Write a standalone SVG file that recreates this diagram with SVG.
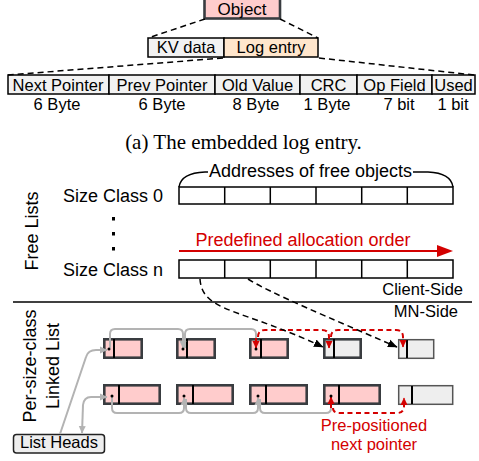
<svg xmlns="http://www.w3.org/2000/svg" width="479" height="461" viewBox="0 0 479 461">
<style>
.t{font-family:"Liberation Sans",Arial,sans-serif;fill:#000}
.s16{font-size:16.5px}
.s18{font-size:18px}
.mid{text-anchor:middle}
.end{text-anchor:end}
.red{fill:#d40000}
.dash{fill:none;stroke:#000;stroke-width:1.5;stroke-dasharray:6,4}
.cell{fill:#f2f2f2;stroke:#000;stroke-width:1.5}
.fl{fill:#fff;stroke:#000;stroke-width:1.5}
.div{stroke:#000;stroke-width:1.5}
.pk{fill:#ffcccc;stroke:#393c40;stroke-width:2.6}
.gy{fill:#eeeeee;stroke:#393c40;stroke-width:2.6}
.gyt{fill:#eeeeee;stroke:#555;stroke-width:1.5}
.ptr{stroke:#000;stroke-width:2}
.gl{fill:none;stroke:#b3b3b3;stroke-width:2}
.rl{fill:none;stroke:#d40000;stroke-width:2}
.rd{fill:none;stroke:#d40000;stroke-width:2;stroke-dasharray:5,3.5}
.bd{fill:none;stroke:#000;stroke-width:1.5;stroke-dasharray:6,4}
</style>
<defs>
<marker id="ag" markerUnits="userSpaceOnUse" markerWidth="8" markerHeight="8" refX="7" refY="4" orient="auto"><path d="M0,0.5 L7.5,4 L0,7.5z" fill="#b3b3b3"/></marker>
<marker id="ar" markerUnits="userSpaceOnUse" markerWidth="8" markerHeight="8" refX="7" refY="4" orient="auto"><path d="M0,0.5 L7.5,4 L0,7.5z" fill="#d40000"/></marker>
<marker id="ab" markerUnits="userSpaceOnUse" markerWidth="10" markerHeight="10" refX="9" refY="5" orient="auto"><path d="M0,1 L9.5,5 L0,9z" fill="#000"/></marker>
</defs>

<!-- Part (a) -->
<g id="object">
<rect x="204.5" y="-3" width="75.5" height="21.5" fill="#ffcccc" stroke="#393c40" stroke-width="2.6"/>
<text class="t mid" x="242" y="15" font-size="17">Object</text>
</g>
<g id="kvdata">
<rect x="148" y="38" width="76" height="19" fill="#f2f2f2" stroke="#000" stroke-width="1.5"/>
<text class="t s16 mid" x="186" y="53">KV data</text>
</g>
<g id="logentry">
<rect x="224" y="38" width="94" height="19" fill="#ffe6cc" stroke="#000" stroke-width="1.5"/>
<text class="t s16 mid" x="271" y="53">Log entry</text>
</g>
<g id="fields">
<rect class="cell" x="8" y="75" width="101" height="19"/>
<rect class="cell" x="109" y="75" width="106" height="19"/>
<rect class="cell" x="215" y="75" width="85" height="19"/>
<rect class="cell" x="300" y="75" width="57" height="19"/>
<rect class="cell" x="357" y="75" width="75" height="19"/>
<rect class="cell" x="432" y="75" width="43" height="19"/>
<text class="t s16 mid" x="58" y="91">Next Pointer</text>
<text class="t s16 mid" x="162" y="91">Prev Pointer</text>
<text class="t s16 mid" x="257.5" y="91">Old Value</text>
<text class="t s16 mid" x="328.5" y="91">CRC</text>
<text class="t s16 mid" x="394.5" y="91">Op Field</text>
<text class="t s16 mid" x="453.5" y="91">Used</text>
<text class="t s16 mid" x="57" y="110">6 Byte</text>
<text class="t s16 mid" x="162" y="110">6 Byte</text>
<text class="t s16 mid" x="256" y="110">8 Byte</text>
<text class="t s16 mid" x="327" y="110">1 Byte</text>
<text class="t s16 mid" x="399" y="110">7 bit</text>
<text class="t s16 mid" x="453" y="110">1 bit</text>
</g>
<g id="zoom-lines">
<line class="dash" x1="205" y1="19" x2="148" y2="38"/>
<line class="dash" x1="280" y1="19" x2="318" y2="38"/>
<line class="dash" x1="223" y1="58" x2="8" y2="75"/>
<line class="dash" x1="319" y1="58" x2="474" y2="75"/>
</g>
<text x="243.5" y="149" font-family="'Liberation Serif','Times New Roman',serif" font-size="21" text-anchor="middle">(a) The embedded log entry.</text>

<!-- Free lists -->
<g id="free-lists">
<text class="t s18 mid" transform="translate(38,231) rotate(-90)">Free Lists</text>
<text class="t s18" x="63" y="202">Size Class 0</text>
<text class="t s18" x="63" y="276">Size Class n</text>
<rect x="112" y="217" width="3" height="3.5" fill="#000"/>
<rect x="112" y="232" width="3" height="3.5" fill="#000"/>
<rect x="112" y="247" width="3" height="3.5" fill="#000"/>
<path d="M179,187 Q181,173 205,172 L208,172 M413,172 L428,172 Q451,173 453,187" fill="none" stroke="#000" stroke-width="1.5"/>
<text class="t s18 mid" x="310.5" y="177">Addresses of free objects</text>
<rect class="fl" x="179" y="187" width="274" height="17"/>
<path class="div" d="M224.7,187V204M270.3,187V204M316,187V204M361.7,187V204M407.3,187V204"/>
<text class="t s18 mid red" x="303" y="246">Predefined allocation order</text>
<line x1="179" y1="251" x2="439" y2="251" stroke="#d40000" stroke-width="2"/>
<polygon points="437,245 453,251 437,257" fill="#d40000"/>
<rect class="fl" x="179" y="260" width="274" height="18"/>
<path class="div" d="M224.7,260V278M270.3,260V278M316,260V278M361.7,260V278M407.3,260V278"/>
</g>
<text class="t s16 end" x="463" y="295">Client-Side</text>
<line x1="13" y1="302" x2="472" y2="302" stroke="#000" stroke-width="1.5"/>
<text class="t s16 end" x="458" y="317">MN-Side</text>

<!-- Linked lists -->
<text class="t s18 mid" transform="translate(36,366) rotate(-90)">Per-size-class</text>
<text class="t s18 mid" transform="translate(59,366) rotate(-90)">Linked List</text>

<g id="obj-a"><rect class="pk" x="104.3" y="339.3" width="37.4" height="18.4"/><line class="ptr" x1="114" y1="339" x2="114" y2="358"/></g>
<g id="obj-b"><rect class="pk" x="177.3" y="339.3" width="37.4" height="18.4"/><line class="ptr" x1="187" y1="339" x2="187" y2="358"/></g>
<g id="obj-c"><rect class="pk" x="250.3" y="339.3" width="37.4" height="18.4"/><line class="ptr" x1="261" y1="339" x2="261" y2="358"/></g>
<g id="obj-d"><rect class="gy" x="324.3" y="339.3" width="36.4" height="18.4"/><line class="ptr" x1="334" y1="339" x2="334" y2="358"/></g>
<g id="obj-e"><rect class="gyt" x="398.7" y="339.7" width="35" height="18.6"/><line class="ptr" x1="407" y1="340" x2="407" y2="358"/></g>
<g id="obj-f"><rect class="pk" x="104.3" y="385.3" width="55.4" height="18.4"/><line class="ptr" x1="119" y1="385" x2="119" y2="404"/></g>
<g id="obj-g"><rect class="pk" x="177.3" y="385.3" width="55.4" height="18.4"/><line class="ptr" x1="193" y1="385" x2="193" y2="404"/></g>
<g id="obj-h"><rect class="pk" x="250.3" y="385.3" width="56.4" height="18.4"/><line class="ptr" x1="266" y1="385" x2="266" y2="404"/></g>
<g id="obj-i"><rect class="pk" x="324.3" y="385.3" width="55.4" height="18.4"/><line class="ptr" x1="339" y1="385" x2="339" y2="404"/></g>
<g id="obj-j"><rect class="gyt" x="398.7" y="385.7" width="54" height="18.6"/><line class="ptr" x1="412" y1="386" x2="412" y2="404"/></g>
<g id="list-heads">
<rect x="13.5" y="434.5" width="91" height="18.5" rx="3" fill="#eeeeee" stroke="#222" stroke-width="1.5"/>
<text class="t s16 mid" x="59" y="448">List Heads</text>
</g>

<g id="connectors">
<path class="gl" d="M60,434 L86,357 Q88,350 96,350 L107,350" marker-end="url(#ag)"/>
<path class="gl" d="M110,348 L110,334 Q110,329 115,329 L178,329 Q183,329 183,334 L183,348" marker-end="url(#ag)"/>
<path class="gl" d="M185,348 L185,334 Q185,329 190,329 L251,329 Q256,329 256,334 L256,339"/>
<path class="rl" d="M256,338 L256,348" marker-end="url(#ar)"/>
<path class="gl" d="M83,405 Q84,397 91,397 L107,397" marker-end="url(#ag)"/>
<path class="gl" d="M83,405 L82,433" marker-end="url(#ag)"/>
<path class="gl" d="M112,397 L112,408 Q112,413 117,413 L179,413 Q184,413 184,408 L184,398" marker-end="url(#ag)"/>
<path class="gl" d="M186,399 L186,408 Q186,413 191,413 L253,413 Q258,413 258,408 L258,398" marker-end="url(#ag)"/>
<path class="gl" d="M260,399 L260,408 Q260,413 265,413 L326,413 Q331,413 331,408 L331,407"/>
<path class="rl" d="M331,408 L331,397" marker-end="url(#ar)"/>
<path class="rd" d="M258,337 Q258,330 265,330 L322,330 Q329,330 329,337 L329,348" marker-end="url(#ar)"/>
<path class="rd" d="M331,337 Q331,330 338,330 L396,330 Q403,330 403,337 L403,347" marker-end="url(#ar)"/>
<path class="rd" d="M333,408 Q333,413 340,413 L397,413 Q404,413 404,406 L404,398" marker-end="url(#ar)"/>
<path class="bd" d="M200,279 C202,312 240,308 323,347" marker-end="url(#ab)"/>
<path class="bd" d="M248,279 C268,292 330,318 397,347" marker-end="url(#ab)"/>
</g>
<g id="dots" fill="#000">
<circle cx="109" cy="349" r="1.5"/><circle cx="183" cy="349" r="1.5"/><circle cx="256" cy="349" r="1.5"/>
<circle cx="112" cy="396" r="1.5"/><circle cx="184" cy="396" r="1.5"/><circle cx="258" cy="396" r="1.5"/><circle cx="331" cy="396" r="1.5"/>
</g>
<text class="t s16 mid red" x="374" y="431">Pre-positioned</text>
<text class="t s16 mid red" x="374" y="450">next pointer</text>
</svg>
